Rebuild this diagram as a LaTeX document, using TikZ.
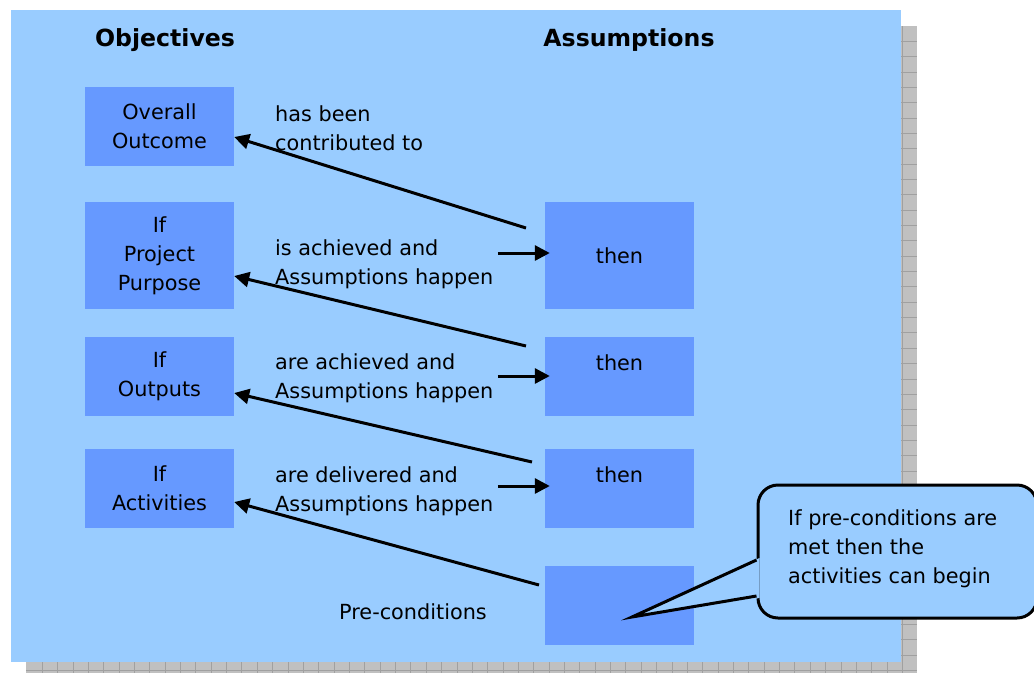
\documentclass[tikz,border=0pt]{standalone}
\usepackage{fontspec}
\setmainfont{DejaVu Sans}
\usetikzlibrary{arrows.meta,calc}
\definecolor{panel}{HTML}{99CCFF}
\definecolor{boxc}{HTML}{6699FF}
\definecolor{shadowc}{HTML}{C0C0C0}
\definecolor{gridc}{HTML}{A0A0A0}
\newcommand\bodyfont{\fontsize{20.8}{28.8}\selectfont}
\newcommand\headfont{\fontsize{23.6}{28}\selectfont\bfseries}
\begin{document}
\begin{tikzpicture}[x=1pt,y=-1pt,
 box/.style={fill=boxc, inner sep=0pt, minimum width=149pt, minimum height=79pt, align=center, font=\bodyfont},
 lbl/.style={inner sep=0pt, align=left, anchor=west, font=\bodyfont, yshift=-2pt},
 head/.style={inner sep=0pt, font=\headfont, yshift=-2pt},
 arr/.style={line width=3pt, -{Triangle[length=15pt,width=15pt]}},
 bubble/.style={draw, line width=3pt, fill=panel, rounded corners=20pt, minimum width=279pt, minimum height=133pt, inner sep=0pt},
]
\useasboundingbox (0,0) rectangle (1034,673);
% shadow with grid
\fill[shadowc] (26,26) rectangle (917,673);
\begin{scope}
\clip (26,26) rectangle (917,673);
\foreach \i in {0,...,56} \draw[gridc, line width=1pt] ({42.3+15.36*\i},26) -- ({42.3+15.36*\i},673);
\foreach \j in {0,...,41} \draw[gridc, line width=1pt] (26,{41.3+15.35*\j}) -- (917,{41.3+15.35*\j});
\end{scope}
% panel
\fill[panel] (11,10) rectangle (901,662);
% headings
\node[head] (ho) at (165,38) {Objectives};
\node[head] (ha) at (629,38) {Assumptions};
% objective boxes
\node[box] (oo) at (159.5,126.5) {Overall\\Outcome};
\node[box, minimum height=107pt] (pp) at (159.5,255.5) {If\\Project\\Purpose};
\node[box] (out) at (159.5,376.5) {If\\Outputs};
\node[box] (act) at (159.5,488.5) {If\\Activities};
% assumption boxes
\node[box, minimum height=107pt] (t1) at (619.5,255.5) {then};
\node[box] (t2) at (619.5,376.5) {then\\\mbox{}};
\node[box] (t3) at (619.5,488.5) {then\\\mbox{}};
\node[box] (pc) at (619.5,605.5) {};
% labels
\node[lbl] (l1) at (275,126.5) {has been\\contributed to};
\node[lbl] (l2) at (275,262.5) {is achieved and\\Assumptions happen};
\node[lbl] (l3) at (275,376.5) {are achieved and\\Assumptions happen};
\node[lbl] (l4) at (275,489) {are delivered and\\Assumptions happen};
\node[lbl] (l5) at (339,610) {Pre-conditions};
% diagonal arrows
\coordinate (s1) at (526,228);
\coordinate (s2) at (526,346);
\coordinate (s3) at (532,462);
\coordinate (s4) at (539,585);
\draw[arr] (s1) -- ($(oo.east)+(0,10.5)$);
\draw[arr] (s2) -- ($(pp.east)+(0,20.5)$);
\draw[arr] (s3) -- ($(out.east)+(0,16.5)$);
\draw[arr] (s4) -- ($(act.east)+(0,13.5)$);
% right arrows
\draw[arr] ($(t1.west)+(-47,-2.5)$) -- ($(t1.west)+(5,-2.5)$);
\draw[arr] ($(t2.west)+(-47,-0.5)$) -- ($(t2.west)+(5,-0.5)$);
\draw[arr] ($(t3.west)+(-47,-2.5)$) -- ($(t3.west)+(5,-2.5)$);
% callout
\node[bubble] (co) at (897.5,551.5) {};
\coordinate (tip) at (632,617);
\fill[panel] ($(co.west)+(3,6.5)$) -- (tip) -- ($(co.west)+(3,46.5)$) -- cycle;
\draw[line width=3pt, line join=miter] ($(co.west)+(0,8.5)$) -- (tip) -- ($(co.west)+(0,44.5)$);
\node[lbl] (cot) at (788,547) {If pre-conditions are\\met then the\\activities can begin};
\end{tikzpicture}
\end{document}
